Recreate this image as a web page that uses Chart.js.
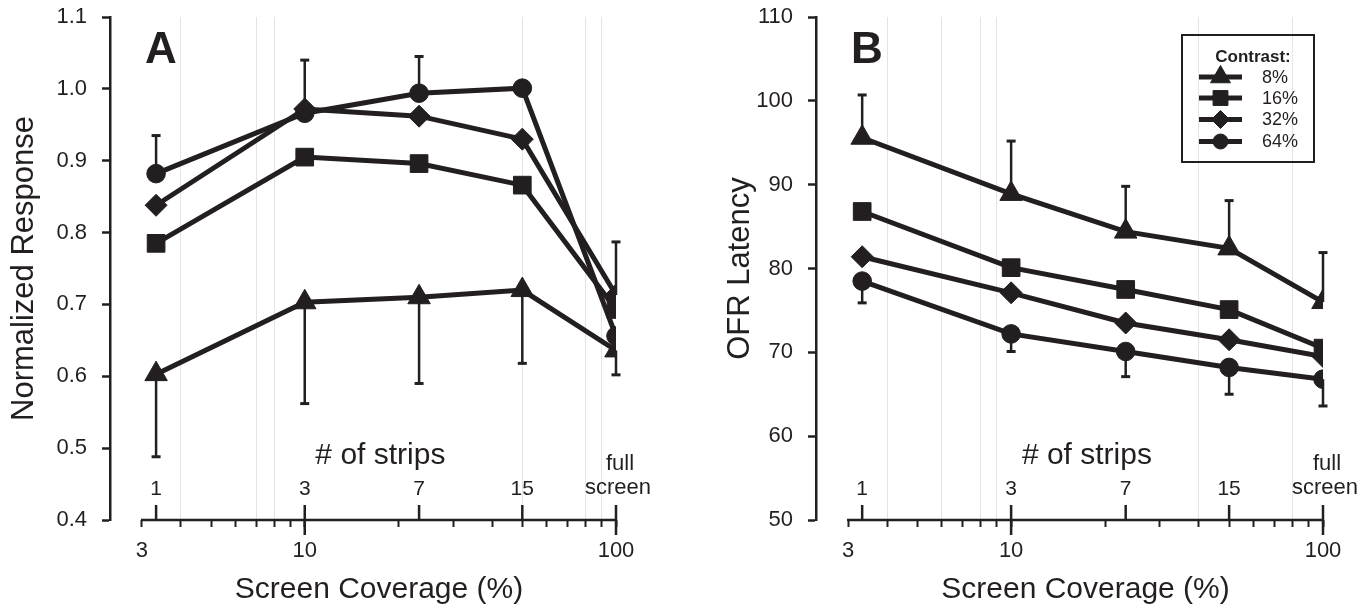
<!DOCTYPE html>
<html>
<head>
<meta charset="utf-8">
<script src="https://cdn.jsdelivr.net/npm/chart.js@4"></script>
<style>
  html, body { margin: 0; padding: 0; background: #fff; }
  #wrap { position: relative; width: 1372px; height: 605px; }
  .panel { position: absolute; top: 0; width: 686px; height: 605px; }
  #panelA { left: 0; }
  #panelB { left: 686px; }
</style>
</head>
<body>
<div id="wrap">
  <div class="panel" id="panelA"><canvas id="chartA"></canvas></div>
  <div class="panel" id="panelB"><canvas id="chartB"></canvas></div>
</div>
<script>
const INK = "#231f20";
const FONT = "'Liberation Sans', Arial, Helvetica, sans-serif";

// screen coverage (%) for 1, 3, 7, 15 strips and full screen
const coverage = [3.33, 10, 23.3, 50, 100];
const stripLabels = ["1", "3", "7", "15", ["full", "screen"]];
const contrastLabels = ["8%", "16%", "32%", "64%"];
const markerStyles = ["triangle", "rect", "rectRot", "circle"];
const markerSizes = [13, 12.5, 11, 9.3];

const axisTicks = [3, 4, 5, 6, 7, 8, 9, 10, 20, 30, 40, 50, 60, 70, 80, 90, 100];
const axisLabels = [3, 10, 100];

// A: normalized response
const respC8 = [0.603, 0.703, 0.710, 0.720, 0.636];
const respC16 = [0.785, 0.905, 0.896, 0.866, 0.693];
const respC32 = [0.838, 0.972, 0.962, 0.930, 0.713];
const respC64 = [0.882, 0.966, 0.994, 1.001, 0.656];
const respC8Low = [0.488, 0.562, 0.590, 0.618, 0.602];
const respC64High = [0.935, 1.040, 1.045, null, null];
const respC32High = [null, null, null, null, 0.787];

// B: OFR latency
const latC8 = [95.6, 88.9, 84.4, 82.4, 76.0];
const latC16 = [86.8, 80.1, 77.5, 75.1, 70.5];
const latC32 = [81.4, 77.1, 73.5, 71.5, 69.5];
const latC64 = [78.5, 72.2, 70.1, 68.2, 66.8];
const latC8High = [100.7, 95.2, 89.8, 88.1, 81.9];
const latC64Low = [75.9, 70.1, 67.1, 65.0, 63.6];

const faintGridA = [4, 7, 8, 50, 80, 90];
const faintGridB = [4, 6, 8, 9, 40, 80];

Chart.defaults.font.family = FONT;
Chart.defaults.color = INK;

function drawMarker(ctx, style, radius, x, y) {
  if (Chart.helpers && Chart.helpers.drawPoint) {
    Chart.helpers.drawPoint(ctx, { pointStyle: style, radius, rotation: 0, borderWidth: 1 }, x, y);
    return;
  }
  ctx.beginPath();
  ctx.arc(x, y, radius, 0, Math.PI * 2);
  ctx.fill();
}

const stripAxisPlugin = {
  id: "stripAxis",
  beforeDatasetsDraw(chart, args, opts) {
    const { ctx, scales: { x, y } } = chart;
    ctx.save();
    ctx.strokeStyle = INK;
    opts.errorBars.forEach(({ values, ends }) => {
      coverage.forEach((c, i) => {
        if (ends[i] == null) return;
        const px = x.getPixelForValue(c);
        const y0 = y.getPixelForValue(values[i]);
        const y1 = y.getPixelForValue(ends[i]);
        ctx.lineWidth = 2.5;
        ctx.beginPath();
        ctx.moveTo(px, y0);
        ctx.lineTo(px, y1);
        ctx.stroke();
        ctx.lineWidth = 3;
        ctx.beginPath();
        ctx.moveTo(px - 4.5, y1);
        ctx.lineTo(px + 4.5, y1);
        ctx.stroke();
      });
    });
    ctx.restore();
  },
  afterDraw(chart, args, opts) {
    const { ctx, chartArea, scales: { x } } = chart;
    const base = chartArea.bottom;
    const x0 = x.getPixelForValue(axisTicks[0]);
    const x1 = x.getPixelForValue(axisTicks[axisTicks.length - 1]);
    ctx.save();
    ctx.strokeStyle = INK;
    ctx.fillStyle = INK;

    // bottom axis line, only between first and last tick
    ctx.lineWidth = 2.5;
    ctx.beginPath();
    ctx.moveTo(x0 - 1, base);
    ctx.lineTo(x1 + 1, base);
    ctx.stroke();

    // long decade ticks
    [10, 100].forEach((v) => {
      const px = x.getPixelForValue(v);
      ctx.beginPath();
      ctx.moveTo(px, base);
      ctx.lineTo(px, base + 15);
      ctx.stroke();
    });

    // strip ticks and labels
    coverage.forEach((c, i) => {
      const px = x.getPixelForValue(c);
      ctx.beginPath();
      ctx.moveTo(px, base - 15);
      ctx.lineTo(px, base);
      ctx.stroke();
      ctx.textAlign = "center";
      ctx.textBaseline = "alphabetic";
      const label = stripLabels[i];
      if (Array.isArray(label)) {
        ctx.font = `22px ${FONT}`;
        ctx.fillText(label[0], px + 4, base - 50);
        ctx.fillText(label[1], px + 2, base - 26);
      } else {
        ctx.font = `21px ${FONT}`;
        ctx.fillText(label, px, base - 25);
      }
    });

    ctx.font = `30px ${FONT}`;
    ctx.textAlign = "center";
    ctx.fillText("# of strips", x.getPixelForValue(17.5), base - 56);

    // axis title centred on the drawn axis line
    ctx.fillText("Screen Coverage (%)", (x0 + x1) / 2, 598);

    // panel letter
    ctx.font = `bold 44px ${FONT}`;
    ctx.textAlign = "left";
    ctx.fillText(opts.letter, chartArea.left + 35, 63);

    if (opts.legend) {
      const right = chartArea.right - 9;
      const left = right - 132;
      ctx.lineWidth = 2;
      ctx.strokeRect(left, 35, right - left, 127);
      ctx.font = `bold 17px ${FONT}`;
      ctx.textAlign = "center";
      ctx.fillText("Contrast:", left + 71, 62);
      const rows = [77, 98, 119.5, 141.5];
      const legendSizes = [11.5, 10.5, 9, 7.5];
      contrastLabels.forEach((name, i) => {
        const cy = rows[i];
        ctx.lineWidth = 5;
        ctx.beginPath();
        ctx.moveTo(left + 17, cy);
        ctx.lineTo(left + 60, cy);
        ctx.stroke();
        ctx.lineWidth = 1;
        drawMarker(ctx, markerStyles[i], legendSizes[i], left + 38.5, cy);
        ctx.font = `18px ${FONT}`;
        ctx.textAlign = "left";
        ctx.textBaseline = "middle";
        ctx.fillText(name, left + 80, cy + 1);
        ctx.textBaseline = "alphabetic";
      });
    }
    ctx.restore();
  }
};

function buildPanel(canvasId, cfg) {
  const datasets = cfg.series.map((values, i) => ({
    label: contrastLabels[i],
    data: coverage.map((c, j) => ({ x: c, y: values[j] })),
    borderColor: INK,
    backgroundColor: INK,
    borderWidth: 5,
    pointStyle: markerStyles[i],
    pointRadius: markerSizes[i],
    pointBackgroundColor: INK,
    pointBorderColor: INK,
    pointBorderWidth: 1,
    tension: 0
  }));

  return new Chart(document.getElementById(canvasId), {
    type: "line",
    data: { datasets },
    options: {
      responsive: true,
      maintainAspectRatio: false,
      animation: false,
      layout: { padding: { left: 0, right: cfg.padRight, top: 17, bottom: 0 } },
      plugins: {
        legend: { display: false },
        tooltip: { enabled: false },
        stripAxis: { letter: cfg.letter, legend: cfg.legend, errorBars: cfg.errorBars }
      },
      scales: {
        x: {
          type: "logarithmic",
          min: 2.368,
          max: 100,
          bounds: "data",
          afterBuildTicks: (scale) => { scale.ticks = axisTicks.map((v) => ({ value: v })); },
          afterFit: (scale) => {
            scale.height = 85;
            scale.paddingLeft = 0;
            scale.paddingRight = 0;
          },
          border: { display: false },
          grid: {
            color: (ctx) => (ctx.tick && cfg.faintGrid.includes(ctx.tick.value)) ? "#e4e4e4" : "rgba(0,0,0,0)",
            lineWidth: 1,
            tickColor: INK,
            tickLength: 7,
            tickWidth: 2
          },
          ticks: {
            autoSkip: false,
            maxRotation: 0,
            padding: 11,
            font: { size: 22 },
            callback: (v) => (axisLabels.includes(v) ? String(v) : "")
          },
          title: { display: false }
        },
        y: {
          min: cfg.yMin,
          max: cfg.yMax,
          afterFit: (scale) => {
            scale.width = cfg.chartLeft;
            scale.paddingTop = 0;
            scale.paddingBottom = 0;
          },
          border: { display: true, color: INK, width: 2.5 },
          grid: { drawOnChartArea: false, tickColor: INK, tickLength: 8, tickWidth: 2.5 },
          ticks: { stepSize: cfg.yStep, padding: 15, font: { size: 22 }, callback: cfg.yFormat },
          title: {
            display: true,
            text: cfg.yTitle,
            font: { size: 31, lineHeight: 1 },
            padding: { top: cfg.titlePad, bottom: 0 }
          }
        }
      }
    },
    plugins: [stripAxisPlugin]
  });
}

buildPanel("chartA", {
  letter: "A",
  legend: false,
  series: [respC8, respC16, respC32, respC64],
  errorBars: [
    { values: respC8, ends: respC8Low },
    { values: respC64, ends: respC64High },
    { values: respC32, ends: respC32High }
  ],
  faintGrid: faintGridA,
  yMin: 0.4, yMax: 1.1, yStep: 0.1,
  yFormat: (v) => v.toFixed(1),
  yTitle: "Normalized Response",
  chartLeft: 110, padRight: 70, titlePad: 8.5
});

buildPanel("chartB", {
  letter: "B",
  legend: true,
  series: [latC8, latC16, latC32, latC64],
  errorBars: [
    { values: latC8, ends: latC8High },
    { values: latC64, ends: latC64Low }
  ],
  faintGrid: faintGridB,
  yMin: 50, yMax: 110, yStep: 10,
  yFormat: (v) => String(v),
  yTitle: "OFR Latency",
  chartLeft: 130, padRight: 49, titlePad: 39
});
</script>
</body>
</html>
